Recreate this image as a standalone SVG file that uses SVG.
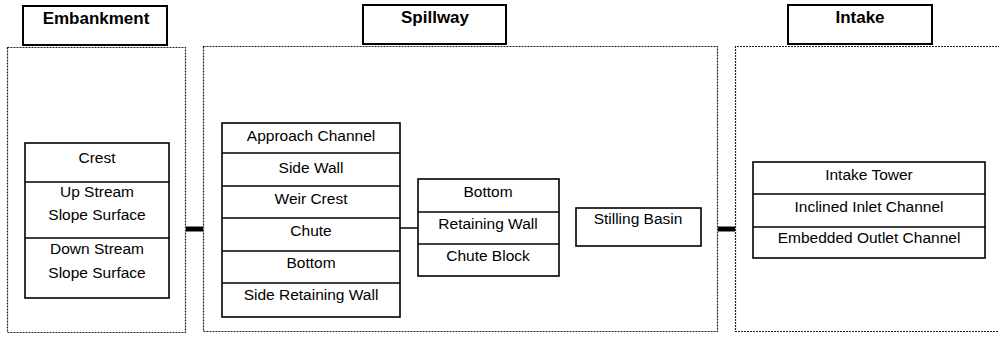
<svg xmlns="http://www.w3.org/2000/svg" width="999" height="338" viewBox="0 0 999 338">
<style>
.bg{fill:#ffffff}
.cont{fill:none;stroke:#222;stroke-width:1.2;stroke-dasharray:2,1}
.title{fill:#fff;stroke:#000;stroke-width:2}
.box{fill:#fff;stroke:#000;stroke-width:1.6}
.div{stroke:#000;stroke-width:1.4}
.tt{font-family:"Liberation Sans",Arial,sans-serif;font-size:17px;font-weight:bold;text-anchor:middle;fill:#000}
.t{font-family:"Liberation Sans",Arial,sans-serif;font-size:15.5px;text-anchor:middle;fill:#000}
.thick{stroke:#000;stroke-width:5}
.thin{stroke:#000;stroke-width:1.5}
</style>
<rect class="bg" x="0" y="0" width="999" height="338"/>

<g id="connectors">
<line class="thick" x1="186" y1="229" x2="203" y2="229"/>
<line class="thick" x1="718" y1="229" x2="735" y2="229"/>
<line class="thin" x1="400" y1="228" x2="418" y2="228"/>
</g>

<g id="embankment">
<rect class="cont" x="7.5" y="47.5" width="178" height="285"/>
<rect class="title" x="23" y="6" width="144" height="39"/>
<text class="tt" x="96" y="24">Embankment</text>
</g>

<g id="embankment-parts">
<rect class="box" x="25" y="143" width="144" height="155"/>
<line class="div" x1="25" y1="182" x2="169" y2="182"/>
<line class="div" x1="25" y1="238" x2="169" y2="238"/>
<text class="t" x="97" y="163">Crest</text>
<text class="t" x="97" y="197">Up Stream</text>
<text class="t" x="97" y="220">Slope Surface</text>
<text class="t" x="97" y="254">Down Stream</text>
<text class="t" x="97" y="278">Slope Surface</text>
</g>

<g id="spillway">
<rect class="cont" x="203.5" y="46.5" width="514" height="285"/>
<rect class="title" x="363" y="5" width="143" height="39"/>
<text class="tt" x="435" y="23">Spillway</text>
</g>

<g id="spillway-parts">
<rect class="box" x="222" y="123" width="178" height="194"/>
<line class="div" x1="222" y1="153" x2="400" y2="153"/>
<line class="div" x1="222" y1="186" x2="400" y2="186"/>
<line class="div" x1="222" y1="218" x2="400" y2="218"/>
<line class="div" x1="222" y1="251" x2="400" y2="251"/>
<line class="div" x1="222" y1="283" x2="400" y2="283"/>
<text class="t" x="311" y="141">Approach Channel</text>
<text class="t" x="311" y="173">Side Wall</text>
<text class="t" x="311" y="204">Weir Crest</text>
<text class="t" x="311" y="236">Chute</text>
<text class="t" x="311" y="268">Bottom</text>
<text class="t" x="311" y="300">Side Retaining Wall</text>
</g>

<g id="chute-parts">
<rect class="box" x="418" y="179" width="141" height="97"/>
<line class="div" x1="418" y1="212" x2="559" y2="212"/>
<line class="div" x1="418" y1="244" x2="559" y2="244"/>
<text class="t" x="488" y="197">Bottom</text>
<text class="t" x="488" y="229">Retaining Wall</text>
<text class="t" x="488" y="261">Chute Block</text>
</g>

<g id="stilling-basin">
<rect class="box" x="576" y="208" width="125" height="38"/>
<text class="t" x="638" y="224">Stilling Basin</text>
</g>

<g id="intake">
<path class="cont" d="M1000 46.5 H735.5 V331.5 H1000"/>
<rect class="title" x="788" y="5" width="144" height="39"/>
<text class="tt" x="860" y="23">Intake</text>
</g>

<g id="intake-parts">
<rect class="box" x="753" y="162" width="232" height="96"/>
<line class="div" x1="753" y1="194" x2="985" y2="194"/>
<line class="div" x1="753" y1="227" x2="985" y2="227"/>
<text class="t" x="869" y="180">Intake Tower</text>
<text class="t" x="869" y="212">Inclined Inlet Channel</text>
<text class="t" x="869" y="243">Embedded Outlet Channel</text>
</g>
</svg>
